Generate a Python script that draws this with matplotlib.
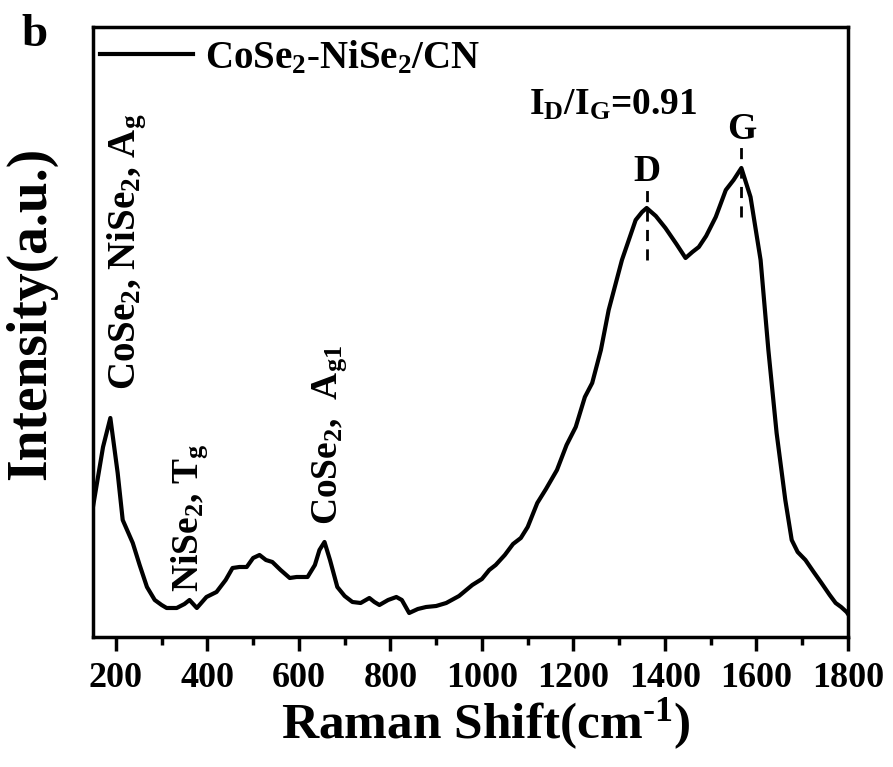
import matplotlib
matplotlib.use("Agg")
import matplotlib.pyplot as plt
from matplotlib.ticker import MultipleLocator

# Raman spectrum, CoSe2-NiSe2/CN
wavenumber = [
    150, 172, 188, 204, 215, 237, 252, 268, 285, 300,
    311, 333, 350, 361, 377, 398, 420, 440, 455, 470,
    486, 500, 514, 528, 542, 560, 580, 595, 608, 619,
    635, 645, 656, 668, 684, 700, 717, 735, 754, 765,
    776, 795, 813, 825, 841, 860, 878, 900, 922, 950,
    979, 1000, 1016, 1030, 1050, 1068, 1085, 1100, 1121, 1140,
    1164, 1185, 1205, 1225, 1241, 1260, 1277, 1306, 1336, 1350,
    1360, 1380, 1401, 1425, 1445, 1460, 1474, 1490, 1511, 1533,
    1550, 1567, 1587, 1609, 1626, 1644, 1663, 1677, 1690, 1707,
    1725, 1742, 1760, 1773, 1785, 1797, 1800,
]
intensity = [
    1300, 1900, 2190, 1640, 1170, 940, 720, 500, 370, 320,
    290, 290, 330, 370, 290, 400, 450, 570, 690, 700,
    700, 790, 820, 770, 750, 670, 590, 600, 600, 600,
    720, 870, 950, 770, 500, 410, 350, 340, 390, 350,
    320, 370, 400, 370, 240, 280, 300, 310, 340, 410,
    520, 580, 670, 720, 820, 930, 990, 1100, 1340, 1480,
    1670, 1920, 2100, 2400, 2540, 2870, 3270, 3770, 4170, 4250,
    4290, 4210, 4090, 3930, 3790, 3850, 3900, 4010, 4200, 4470,
    4570, 4690, 4400, 3770, 2870, 2040, 1370, 970, 850, 770,
    650, 540, 420, 340, 300, 250, 230,
]

d_band = 1360
g_band = 1567
ratio_text = r"I$_\mathregular{D}$/I$_\mathregular{G}$=0.91"

plt.rcParams["font.family"] = "Liberation Serif"
plt.rcParams["font.weight"] = "bold"
plt.rcParams["mathtext.fontset"] = "custom"
plt.rcParams["mathtext.rm"] = "Liberation Serif:bold"
plt.rcParams["mathtext.bf"] = "Liberation Serif:bold"
plt.rcParams["mathtext.it"] = "Liberation Serif:bold"

fig = plt.figure(figsize=(8.93, 7.67), dpi=100)
ax = fig.add_axes([0.1041, 0.1695, 0.8455, 0.7953])

ax.plot(wavenumber, intensity, color="black", lw=3.0)

ax.set_xlim(150, 1800)
ax.set_ylim(0, 6100)
ax.xaxis.set_major_locator(MultipleLocator(200))
ax.xaxis.set_minor_locator(MultipleLocator(100))
ax.set_yticks([])
ax.tick_params(axis="x", which="major", direction="out", length=10, width=2.5,
               labelsize=26, pad=8)
ax.tick_params(axis="x", which="minor", direction="out", length=6, width=2.5)
for s in ax.spines.values():
    s.set_linewidth(2.5)

ax.set_xlabel(r"Raman Shift(cm$^{\text{-}1}$)", fontsize=37, fontweight="bold")
ax.set_ylabel("Intensity(a.u.)", fontsize=40, fontweight="bold")
ax.xaxis.set_label_coords(0.52, -0.097)
ax.yaxis.set_label_coords(-0.047, 0.53)

# peak assignments
ax.text(226, 3850, r"CoSe$_2$, NiSe$_2$, A$_g$", rotation=90, fontsize=28,
        ha="center", va="center")
ax.text(361, 1190, r"NiSe$_2$, T$_g$", rotation=90, fontsize=27,
        ha="center", va="center")
ax.text(667, 2020, r"CoSe$_2$,  A$_{g1}$", rotation=90, fontsize=27,
        ha="center", va="center")
ax.text(1286, 5320, ratio_text, fontsize=27, ha="center", va="center")
ax.text(d_band, 4650, "D", fontsize=27, ha="center", va="center")
ax.text(g_band, 5070, "G", fontsize=27, ha="center", va="center")
ax.plot([d_band, d_band], [3770, 4470], color="black", lw=2, ls=(0, (4, 3)))
ax.plot([g_band, g_band], [4200, 4900], color="black", lw=2, ls=(0, (4, 3)))

ax.legend([ax.lines[0]], [r"CoSe$_2$-NiSe$_2$/CN"], loc="center left",
          bbox_to_anchor=(0.0093, 0.949), frameon=False, fontsize=28,
          handlelength=2.4, handletextpad=0.3, borderaxespad=0, borderpad=0)

fig.text(0.024, 0.955, "b", fontsize=34, fontweight="bold", ha="left", va="center")

fig.savefig("out.png", dpi=100)
